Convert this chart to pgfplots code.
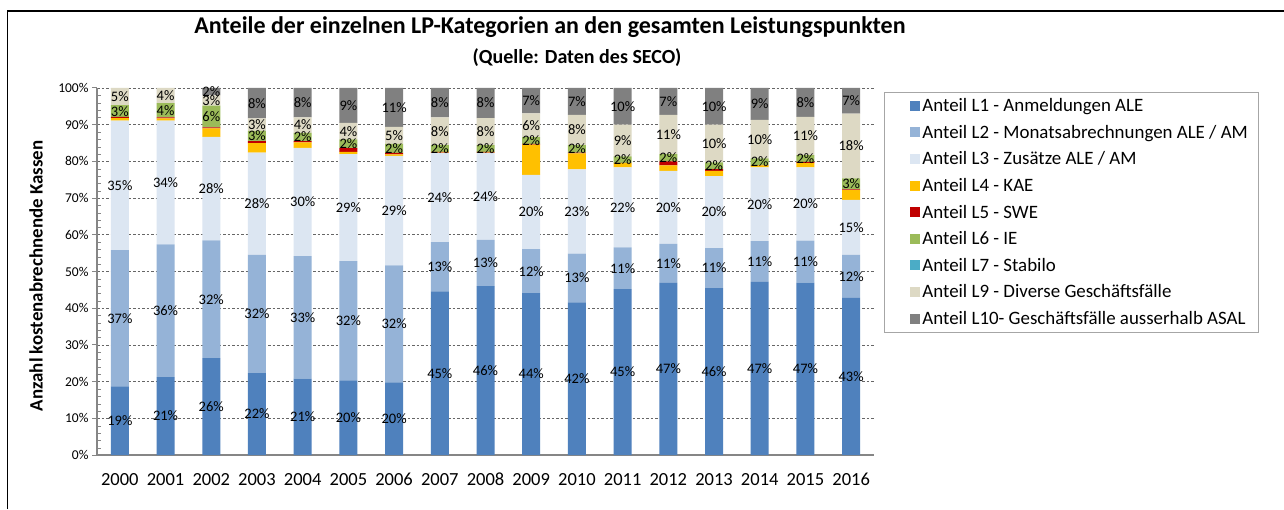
\documentclass[border=0pt]{standalone}
\usepackage{pgfplots}
\pgfplotsset{compat=1.18}
\usepackage{pgfplotstable}
\usepackage{fontspec}
\setmainfont{Carlito}

\definecolor{cLone}{HTML}{4F81BD}
\definecolor{cLtwo}{HTML}{95B3D7}
\definecolor{cLthree}{HTML}{DCE6F2}
\definecolor{cLfour}{HTML}{FFC000}
\definecolor{cLfive}{HTML}{C00000}
\definecolor{cLsix}{HTML}{9BBB59}
\definecolor{cLseven}{HTML}{4BACC6}
\definecolor{cLnine}{HTML}{DDD9C4}
\definecolor{cLten}{HTML}{808080}
\definecolor{axgray}{HTML}{868686}

\pgfplotstableread{
x L1 L2 L3 L4 L5 L6 L7 L9 L10 t1 t2 t3 t6 t9 t10
0 18.7 37.1 35.3 0.7 0.3 3.2 0 4.7 0 19 37 35 3 5 0
1 21.2 36.2 33.7 0.6 0.3 3.9 0 4.1 0 21 36 34 4 4 0
2 26.4 32.1 28.2 2.3 0.3 5.9 0 2.8 2.0 26 32 28 6 3 2
3 22.3 32.2 27.9 2.6 0.5 2.8 0 3.4 8.3 22 32 28 3 3 8
4 20.8 33.4 29.5 1.5 0.3 2.3 0 4.2 8.0 21 33 30 2 4 8
5 20.3 32.5 29.2 0.6 1.0 2.4 0 4.5 9.5 20 32 29 2 4 9
6 19.8 31.9 29.8 0.4 0.4 2.5 0 4.6 10.6 20 32 29 2 5 11
7 44.6 13.4 24.3 0.1 0.2 1.8 0 7.6 8.0 45 13 24 2 8 8
8 46.0 12.6 23.7 0.1 0.2 1.8 0 7.4 8.2 46 13 24 2 8 8
9 44.1 12.0 20.2 8.3 0.2 1.8 0 6.5 6.9 44 12 20 2 6 7
10 41.6 13.3 22.9 4.4 0.2 2.0 0 8.3 7.3 42 13 23 2 8 7
11 45.2 11.4 21.8 1.1 0.1 1.8 0 8.6 10.0 45 11 22 2 9 10
12 46.9 10.6 19.9 1.5 1.1 2.0 0 10.7 7.3 47 11 20 2 11 7
13 45.5 10.9 19.6 1.4 0.5 1.8 0 10.3 10.0 46 11 20 2 10 10
14 47.2 11.1 20.1 0.5 0.1 1.8 0 10.5 8.7 47 11 20 2 10 9
15 47.0 11.4 20.0 1.1 0.4 1.8 0 10.4 7.9 47 11 20 2 11 8
16 42.8 11.7 15.0 2.7 0.2 3.0 0 17.6 7.0 43 12 15 3 18 7
}\data

\begin{document}
\begin{tikzpicture}
\useasboundingbox (0,0) rectangle (1284pt,509pt);
\fill[white] (0,0) rectangle (1284pt,509pt);
\draw[line width=1.5pt] (7.5pt,0) -- (7.5pt,498pt) -- (1284pt,498pt);
\node[font=\bfseries\fontsize{24}{28}\selectfont] at (550pt,482pt) {Anteile der einzelnen LP-Kategorien an den gesamten Leistungspunkten};
\node[font=\bfseries\fontsize{20}{24}\selectfont] at (577pt,451pt) {(Quelle: Daten des SECO)};
\node[rotate=90,font=\bfseries\fontsize{18.9}{22}\selectfont] at (36pt,233pt) {Anzahl kostenabrechnende Kassen};

\begin{axis}[
  at={(97pt,54pt)}, anchor=south west, scale only axis,
  width=777pt, height=367pt,
  ybar stacked, bar width=18pt,
  xmin=-0.5, xmax=16.5, ymin=0, ymax=100,
  xtick={0,...,16},
  xticklabels={2000,2001,2002,2003,2004,2005,2006,2007,2008,2009,2010,2011,2012,2013,2014,2015,2016},
  x tick label style={font=\fontsize{18.5}{21}\selectfont, yshift=-9pt, text height=12.5pt, text depth=0pt},
  major x tick style={draw=none},
  ytick={0,10,...,100},
  yticklabel={\pgfmathprintnumber{\tick}\%},
  /pgf/number format/assume math mode=true,
  y tick label style={font=\fontsize{13.5}{16}\selectfont},
  minor y tick num=4,
  tick align=outside,
  major tick length=5pt,
  minor tick length=4pt,
  minor tick style={xshift=4pt, draw=axgray},
  major tick style={draw=axgray, line width=1pt},
  ymajorgrids,
  grid style={dash pattern=on 2.5pt off 2pt, draw=gray!80!black, line width=0.8pt},
  axis x line*=bottom, axis y line*=left,
  axis line style={draw=axgray, line width=1.5pt},
  legend cell align=left,
  legend style={at={(1.0129,0.989)}, anchor=north west, draw=gray!70, line width=0.8pt,
    font=\fontsize{18.9}{21}\selectfont, row sep=8pt, inner xsep=8pt, inner ysep=4pt},
  legend image code/.code={\path (-18pt,0pt); \fill[#1] (0pt,-5pt) rectangle (10pt,5pt);},
]
\addplot[fill=cLone, draw=none] table[x=x,y=L1]{\data};
\addlegendentry{Anteil L1 - Anmeldungen ALE}
\addplot[fill=cLtwo, draw=none] table[x=x,y=L2]{\data};
\addlegendentry{Anteil L2 - Monatsabrechnungen ALE / AM}
\addplot[fill=cLthree, draw=none] table[x=x,y=L3]{\data};
\addlegendentry{Anteil L3 - Zusätze ALE / AM}
\addplot[fill=cLfour, draw=none] table[x=x,y=L4]{\data};
\addlegendentry{Anteil L4 - KAE}
\addplot[fill=cLfive, draw=none] table[x=x,y=L5]{\data};
\addlegendentry{Anteil L5 - SWE}
\addplot[fill=cLsix, draw=none] table[x=x,y=L6]{\data};
\addlegendentry{Anteil L6 - IE}
\addplot[fill=cLseven, draw=none] table[x=x,y=L7]{\data};
\addlegendentry{Anteil L7 - Stabilo}
\addplot[fill=cLnine, draw=none] table[x=x,y=L9]{\data};
\addlegendentry{Anteil L9 - Diverse Geschäftsfälle}
\addplot[fill=cLten, draw=none] table[x=x,y=L10]{\data};
\addlegendentry{Anteil L10- Geschäftsfälle ausserhalb ASAL}
\end{axis}

\begin{axis}[
  at={(97pt,54pt)}, anchor=south west, scale only axis,
  width=777pt, height=367pt,
  xmin=-0.5, xmax=16.5, ymin=0, ymax=100,
  hide axis,
  point meta=explicit symbolic,
  nodes near coords={\pgfplotspointmeta\%},
  every node near coord/.append style={anchor=center, font=\fontsize{14.5}{16}\selectfont, text=black, inner sep=0pt},
]
\addplot[draw=none, mark=none] table[x=x, y expr=0.5*\thisrow{L1}, meta=t1]{\data};
\addplot[draw=none, mark=none] table[x=x, y expr=\thisrow{L1}+0.5*\thisrow{L2}, meta=t2]{\data};
\addplot[draw=none, mark=none] table[x=x, y expr=\thisrow{L1}+\thisrow{L2}+0.5*\thisrow{L3}, meta=t3]{\data};
\addplot[draw=none, mark=none] table[x=x, y expr=\thisrow{L1}+\thisrow{L2}+\thisrow{L3}+\thisrow{L4}+\thisrow{L5}+0.5*\thisrow{L6}, meta=t6]{\data};
\addplot[draw=none, mark=none] table[x=x, y expr=\thisrow{L1}+\thisrow{L2}+\thisrow{L3}+\thisrow{L4}+\thisrow{L5}+\thisrow{L6}+\thisrow{L7}+0.5*\thisrow{L9}, meta=t9]{\data};
\addplot[draw=none, mark=none, skip coords between index={0}{2}] table[x=x, y expr=100-0.5*\thisrow{L10}, meta=t10]{\data};
\end{axis}
\end{tikzpicture}
\end{document}
